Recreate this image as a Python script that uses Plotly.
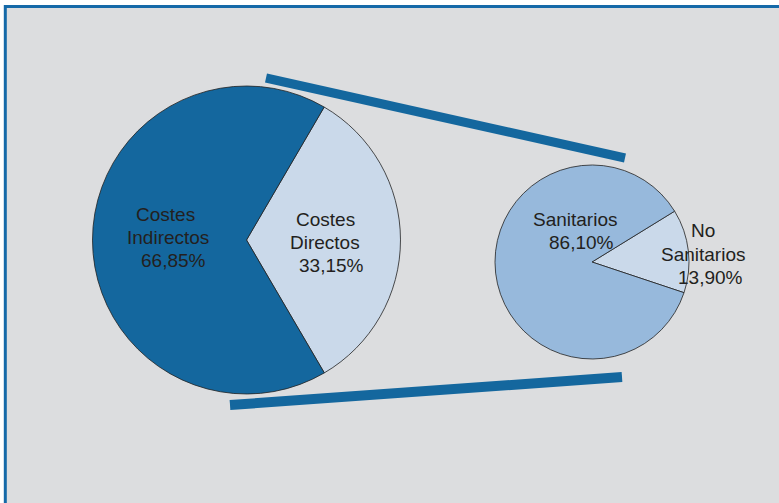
import plotly.graph_objects as go

# Data
main_labels = ["Costes<br>Directos", "Costes<br>Indirectos"]
main_values = [33.15, 66.85]
main_colors = ["#cad9ea", "#14679e"]

sub_labels = ["No<br>Sanitarios", "Sanitarios"]
sub_values = [13.90, 86.10]
sub_colors = ["#cad9ea", "#97b9dc"]

W, H = 779, 503

def fmt(v):
    return f"{v:.2f}".replace(".", ",") + "%"

fig = go.Figure()

fig.add_trace(go.Pie(
    labels=main_labels, values=main_values, sort=False, direction="clockwise",
    rotation=30.3, marker=dict(colors=main_colors, line=dict(color="#222222", width=0.8)),
    textinfo="none", hoverinfo="label+percent", showlegend=False,
    domain=dict(x=[92 / W, 401 / W], y=[1 - 394 / H, 1 - 86 / H]),
))
fig.add_trace(go.Pie(
    labels=sub_labels, values=sub_values, sort=False, direction="clockwise",
    rotation=58.4, marker=dict(colors=sub_colors, line=dict(color="#222222", width=0.8)),
    textinfo="none", hoverinfo="label+percent", showlegend=False,
    domain=dict(x=[495 / W, 689 / W], y=[1 - 359 / H, 1 - 165 / H]),
))

# per-line label positions (pixel centre x, baseline y)
line_pos = [
    [(325.3, 225.0), (325.3, 248.3), (331.9, 271.7)],   # Costes Directos
    [(165.9, 220.7), (168.3, 243.3), (173.0, 266.7)],   # Costes Indirectos
    [(702.5, 236.7), (703.7, 260.0), (710.9, 283.3)],   # No Sanitarios
    [(575.3, 225.0), (581.2, 248.3)],                   # Sanitarios
]

annotations = []
for lab, val, poss in zip(main_labels + sub_labels, main_values + sub_values, line_pos):
    lines = lab.split("<br>") + [fmt(val)]
    for txt, (x, yb) in zip(lines, poss):
        annotations.append(dict(
            x=x, y=yb - 6, xref="x", yref="y", text=txt, showarrow=False,
            xanchor="center", yanchor="middle",
            font=dict(family="Liberation Sans", size=19, color="#231f20"),
        ))

shapes = [
    dict(type="rect", xref="x", yref="y", x0=5.3, y0=6.5, x1=W + 20, y1=H + 20,
         fillcolor="#dcdddf", line=dict(color="#1569a8", width=3), layer="below"),
    dict(type="line", xref="x", yref="y", x0=266, y0=78, x1=625, y1=158,
         line=dict(color="#14679e", width=9), layer="above"),
    dict(type="line", xref="x", yref="y", x0=230, y0=405, x1=622, y1=377,
         line=dict(color="#14679e", width=10), layer="above"),
]

fig.update_layout(
    width=W, height=H, margin=dict(l=0, r=0, t=0, b=0),
    paper_bgcolor="white", plot_bgcolor="rgba(0,0,0,0)",
    xaxis=dict(range=[0, W], visible=False, fixedrange=True),
    yaxis=dict(range=[H, 0], visible=False, fixedrange=True),
    shapes=shapes, annotations=annotations,
)

fig.write_html("out.html")
